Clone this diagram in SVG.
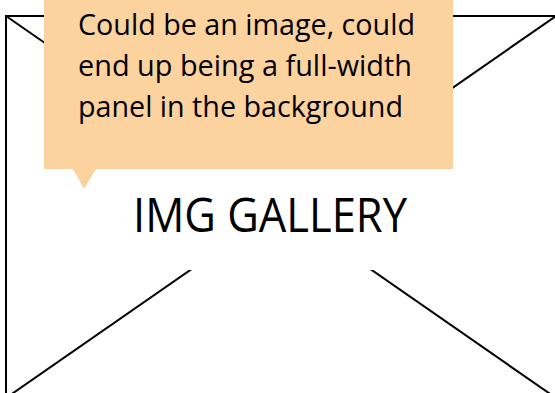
<svg xmlns="http://www.w3.org/2000/svg" width="555" height="393" viewBox="0 0 555 393">
  <style>
    .frame { fill: #ffffff; stroke: #000000; stroke-width: 2; }
    .diag { stroke: #000000; stroke-width: 2; fill: none; }
    .label { font-family: "Open Sans", "Noto Sans", sans-serif; fill: #000000; }
    .callout { fill: #FCD29F; }
  </style>
  <g id="image-placeholder">
    <rect class="frame" x="6" y="16" width="550" height="382"/>
  </g>
  <g id="connectors">
    <line class="diag" x1="6" y1="16" x2="556" y2="398"/>
    <line class="diag" x1="556" y1="16" x2="6" y2="398"/>
  </g>
  <g id="gallery-label">
    <rect x="110" y="165" width="340" height="105" fill="#ffffff"/>
    <text class="label" x="133" y="232" font-size="48" textLength="274" lengthAdjust="spacingAndGlyphs">IMG GALLERY</text>
  </g>
  <g id="note-callout">
    <path class="callout" d="M44,-2 H453 V169 H96 L84,189 L73,169 H44 Z"/>
    <text class="label" font-size="30">
      <tspan x="78" y="34.5" textLength="337" lengthAdjust="spacingAndGlyphs">Could be an image, could</tspan>
      <tspan x="78" y="76" textLength="334" lengthAdjust="spacingAndGlyphs">end up being a full-width</tspan>
      <tspan x="78" y="117" textLength="325" lengthAdjust="spacingAndGlyphs">panel in the background</tspan>
    </text>
  </g>
</svg>
